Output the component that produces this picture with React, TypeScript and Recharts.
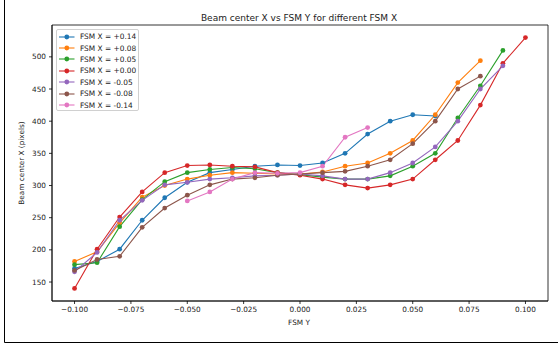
import { Line, LineChart, ReferenceArea, XAxis, YAxis } from 'recharts'

// FSM Y sweep positions
const fsmY = [
  -0.1, -0.09, -0.08, -0.07, -0.06, -0.05, -0.04, -0.03, -0.02, -0.01, 0,
  0.01, 0.02, 0.03, 0.04, 0.05, 0.06, 0.07, 0.08, 0.09, 0.1,
]

// beam center X (pixels) for each FSM X setting
const xP014 = [171, 182, 201, 246, 281, 305, 320, 325, 330, 332, 331, 335, 350, 380, 400, 410, 408, null, null, null, null]
const xP008 = [182, 197, 242, 282, 300, 310, 316, 320, 319, 318, 318, 321, 330, 335, 350, 370, 410, 460, 494, null, null]
const xP005 = [177, 180, 236, 278, 306, 320, 325, 328, 326, 320, 317, 313, 310, 310, 315, 330, 350, 405, 455, 510, null]
const xP000 = [140, 201, 251, 290, 320, 331, 332, 330, 329, 320, 316, 310, 301, 296, 301, 310, 340, 370, 425, 490, 530]
const xM005 = [166, 196, 246, 277, 301, 305, 310, 312, 315, 316, 318, 315, 310, 310, 320, 335, 360, 400, 450, 486, null]
const xM008 = [168, 185, 190, 235, 265, 285, 301, 310, 312, 316, 318, 320, 322, 330, 340, 365, 400, 450, 470, null, null]
const xM014 = [null, null, null, null, null, 276, 290, 310, 320, 319, 320, 330, 375, 390, null, null, null, null, null, null, null]

const xTicks = [-0.1, -0.075, -0.05, -0.025, 0, 0.025, 0.05, 0.075, 0.1]
const yTicks = [150, 200, 250, 300, 350, 400, 450, 500]

const series = [
  { key: 'p014', name: 'FSM X = +0.14', color: '#1f77b4', values: xP014 },
  { key: 'p008', name: 'FSM X = +0.08', color: '#ff7f0e', values: xP008 },
  { key: 'p005', name: 'FSM X = +0.05', color: '#2ca02c', values: xP005 },
  { key: 'p000', name: 'FSM X = +0.00', color: '#d62728', values: xP000 },
  { key: 'm005', name: 'FSM X = -0.05', color: '#9467bd', values: xM005 },
  { key: 'm008', name: 'FSM X = -0.08', color: '#8c564b', values: xM008 },
  { key: 'm014', name: 'FSM X = -0.14', color: '#e377c2', values: xM014 },
]

const data = fsmY.map((y, i) => {
  const row: Record<string, number | null> = { y }
  series.forEach((s) => {
    row[s.key] = s.values[i]
  })
  return row
})

const FONT = '"DejaVu Sans", sans-serif'
const TICK_FONT = 7.3

function fmtX(v: number): string {
  const s = Math.abs(v).toFixed(3)
  return v < -1e-9 ? '\u2212' + s : s
}

// legend drawn as an overlay so it doesn't eat into the plot area
function LegendBox() {
  return (
    <div
      style={{
        position: 'absolute',
        left: 56,
        top: 29,
        width: 83,
        height: 82,
        boxSizing: 'border-box',
        background: 'rgba(255,255,255,0.8)',
        border: '1px solid #d0d0d0',
        borderRadius: 2,
        padding: '1px 0 0 1px',
        fontFamily: FONT,
        fontSize: 7.4,
        color: '#222',
        whiteSpace: 'nowrap',
      }}
    >
      {series.map((s) => (
        <div key={s.key} style={{ display: 'flex', alignItems: 'center', height: 11.4 }}>
          <svg width={22} height={8} style={{ flex: 'none' }}>
            <line x1={1} y1={4} x2={16.5} y2={4} stroke={s.color} strokeWidth={1.1} />
            <circle cx={8.8} cy={4} r={2.4} fill={s.color} />
          </svg>
          <span>{s.name}</span>
        </div>
      ))}
    </div>
  )
}

export default function App() {
  return (
    <div style={{ position: 'absolute', left: 0, top: 0, width: 558, height: 347, background: '#fff' }}>
      <LineChart
        width={558}
        height={347}
        data={data}
        margin={{ top: 25, right: 10, bottom: 0, left: 0 }}
      >
        <XAxis
          dataKey="y"
          type="number"
          domain={[-0.11, 0.11]}
          ticks={xTicks}
          tickFormatter={fmtX}
          height={46}
          tickSize={3}
          tickMargin={3}
          stroke="#000"
          strokeWidth={0.8}
          tick={{ fill: '#222', fontSize: TICK_FONT, fontFamily: FONT }}
          allowDataOverflow
        />
        <YAxis
          type="number"
          domain={[120.5, 549.5]}
          ticks={yTicks}
          width={52}
          tickSize={3}
          tickMargin={3}
          stroke="#000"
          strokeWidth={0.8}
          tick={{ fill: '#222', fontSize: TICK_FONT, fontFamily: FONT }}
          allowDataOverflow
        />
        <ReferenceArea
          x1={-0.11}
          x2={0.11}
          y1={120.5}
          y2={549.5}
          fill="none"
          stroke="#000"
          strokeWidth={0.8}
          fillOpacity={0}
        />
        {series.map((s) => (
          <Line
            key={s.key}
            dataKey={s.key}
            name={s.name}
            stroke={s.color}
            strokeWidth={1.1}
            dot={{ r: 2.4, fill: s.color, stroke: s.color, strokeWidth: 0 }}
            activeDot={false}
            isAnimationActive={false}
          />
        ))}
      </LineChart>
      <LegendBox />
      <svg
        width={558}
        height={347}
        style={{ position: 'absolute', left: 0, top: 0, pointerEvents: 'none' }}
      >
        <text x={299} y={21} textAnchor="middle" fontFamily={FONT} fontSize={9} fill="#222">
          Beam center X vs FSM Y for different FSM X
        </text>
        <text x={299} y={325} textAnchor="middle" fontFamily={FONT} fontSize={TICK_FONT} fill="#222">
          FSM Y
        </text>
        <text
          x={24}
          y={163}
          textAnchor="middle"
          fontFamily={FONT}
          fontSize={TICK_FONT}
          fill="#222"
          transform="rotate(-90 24 163)"
        >
          Beam center X (pixels)
        </text>
        <line x1={4.5} y1={0} x2={4.5} y2={342.5} stroke="#000" strokeWidth={1} />
        <line x1={4.5} y1={342.5} x2={558} y2={342.5} stroke="#000" strokeWidth={1} />
      </svg>
    </div>
  )
}
